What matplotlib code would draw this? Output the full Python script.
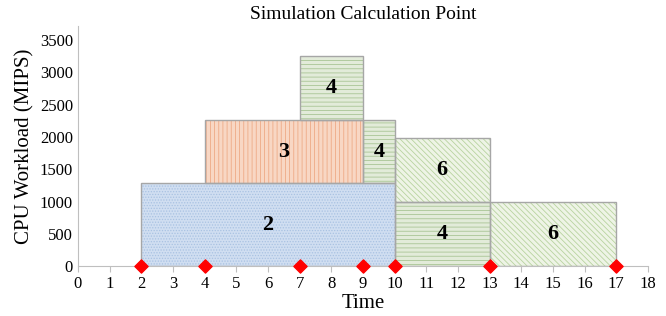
import matplotlib.pyplot as plt

plt.rcParams['font.family'] = ['Liberation Serif', 'DejaVu Serif']
plt.rcParams['hatch.linewidth'] = 0.6

# task blocks: start time, duration, base workload, workload, label
starts = [2, 4, 9, 7, 10, 10, 13]
durations = [8, 5, 1, 2, 3, 3, 4]
bases = [0, 1280, 1280, 2260, 1000, 0, 0]
loads = [1280, 980, 980, 990, 980, 1000, 990]
labels = ["2", "3", "4", "4", "6", "4", "6"]
kinds = ["dot", "vert", "horiz", "horiz", "diag", "horiz", "diag"]

calc_points = [2, 4, 7, 9, 10, 13, 17]

styles = {
    "dot": dict(color="#d0def1", hatch="......", hc="#a9c2e2"),
    "vert": dict(color="#f8d7c4", hatch="||||", hc="#eeaa86"),
    "horiz": dict(color="#e2ebd9", hatch="----", hc="#a9c595"),
    "diag": dict(color="#eef4e6", hatch="\\\\\\\\\\\\", hc="#b8d3a0"),
}

fig, ax = plt.subplots(figsize=(6.66, 3.16), dpi=100)
fig.subplots_adjust(left=0.117, right=0.973, bottom=0.158, top=0.918)

for s, d, b, h, lab, k in zip(starts, durations, bases, loads, labels, kinds):
    st = styles[k]
    ax.bar(s, h, width=d, bottom=b, align="edge", color=st["color"],
           hatch=st["hatch"], edgecolor=st["hc"], linewidth=0, zorder=2)
    ax.bar(s, h, width=d, bottom=b, align="edge", fill=False,
           edgecolor="#a6a6a6", linewidth=1.0, zorder=3)
    ax.text(s + d / 2, b + h / 2, lab, ha="center", va="center",
            fontsize=16, fontweight="bold", zorder=4)

ax.scatter(calc_points, [0] * len(calc_points), marker="D", s=45,
           color="#ff0000", zorder=5, clip_on=False)

ax.set_xlim(0, 18)
ax.set_ylim(0, 3720)
ax.set_xticks(range(0, 19))
ax.set_yticks(range(0, 3501, 500))
ax.tick_params(axis="x", length=4, color="#bfbfbf", labelsize=12)
ax.tick_params(axis="y", length=0, labelsize=12)
for side in ["top", "right"]:
    ax.spines[side].set_visible(False)
for side in ["left", "bottom"]:
    ax.spines[side].set_color("#bfbfbf")

ax.set_title("Simulation Calculation Point", fontsize=14, pad=5)
ax.set_xlabel("Time", fontsize=15, labelpad=1)
ax.set_ylabel("CPU Workload (MIPS)", fontsize=15, labelpad=4)

plt.savefig("out.png")
